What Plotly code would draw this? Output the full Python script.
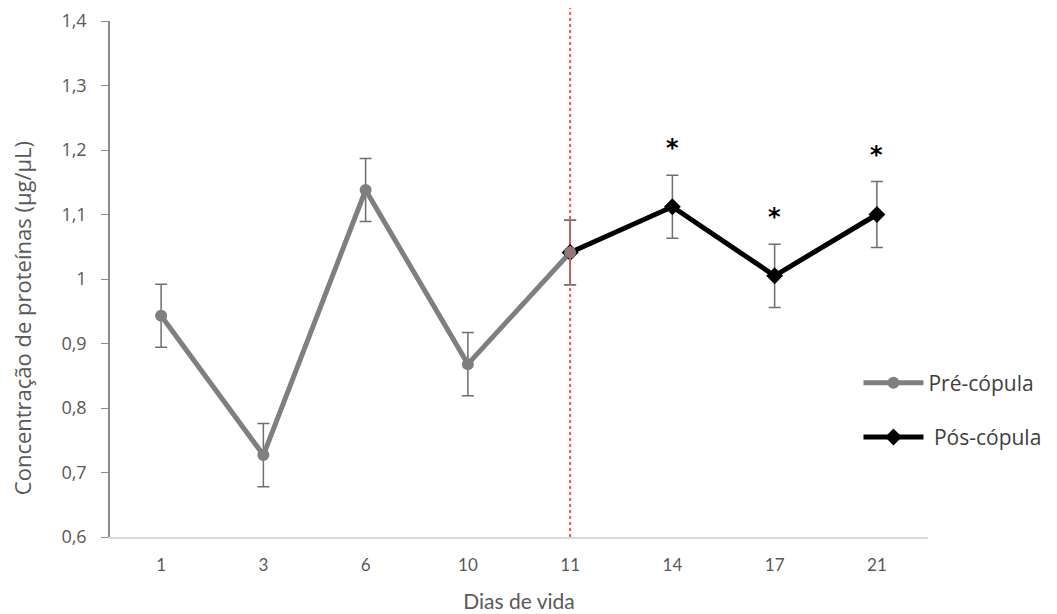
import plotly.graph_objects as go

dias = ["1", "3", "6", "10", "11", "14", "17", "21"]
pre_dias = ["1", "3", "6", "10", "11"]
pre_vals = [0.943, 0.727, 1.138, 0.868, 1.041]
pre_err = [0.049, 0.049, 0.049, 0.049, 0.05]
pos_dias = ["11", "14", "17", "21"]
pos_vals = [1.041, 1.112, 1.005, 1.100]
pos_err = [0.05, 0.049, 0.049, 0.051]
sig_dias = ["14", "17", "21"]
sig_vals = [1.112, 1.005, 1.100]
sig_err = [0.049, 0.049, 0.051]
corte_dia = "11"
y_ticks = [0.6, 0.7, 0.8, 0.9, 1.0, 1.1, 1.2, 1.3, 1.4]
y_labels = ["0,6", "0,7", "0,8", "0,9", "1", "1,1", "1,2", "1,3", "1,4"]

fig = go.Figure()
fig.add_trace(go.Scatter(
    x=pre_dias, y=pre_vals, name="Pré-cópula", mode="lines+markers",
    line=dict(color="#7f7f7f", width=5),
    marker=dict(symbol="circle", size=12, color="#7f7f7f"),
    error_y=dict(type="data", array=pre_err, color="#6e6e6e", thickness=1.5, width=6),
    legendgroup="a",
))
fig.add_trace(go.Scatter(
    x=pos_dias, y=pos_vals, name="\u00a0Pós-cópula", mode="lines+markers",
    line=dict(color="#000000", width=5),
    marker=dict(symbol="diamond", size=13, color="#000000"),
    error_y=dict(type="data", array=pos_err, color="#6e6e6e", thickness=1.5, width=6),
    legendgroup="b",
))
fig.add_trace(go.Scatter(
    x=pre_dias[-1:], y=pre_vals[-1:], mode="markers",
    marker=dict(symbol="circle", size=12, color="#7f7f7f"),
    showlegend=False, hoverinfo="skip",
))

for d, v, e in zip(sig_dias, sig_vals, sig_err):
    fig.add_annotation(x=dias.index(d), y=v + e + 0.042, text="<b>*</b>", showarrow=False,
                       font=dict(size=24, color="#000000", family="DejaVu Sans"),
                       yanchor="middle")

# y-axis title placed as in the reference (slightly below centre)
fig.add_annotation(xref="paper", yref="paper", x=-0.1076, y=0.424,
                   xanchor="center", yanchor="middle", textangle=-90, showarrow=False,
                   text="Concentração de proteínas (µg/µL)",
                   font=dict(size=22, color="#595959", family="Open Sans"))

xi = dias.index(corte_dia)
fig.add_shape(type="line", xref="x", yref="paper", x0=xi, x1=xi, y0=0, y1=1.03,
              line=dict(color="#ff4d4d", width=2, dash="dot"), layer="above")

fig.update_layout(
    width=1057, height=614,
    paper_bgcolor="white", plot_bgcolor="white",
    margin=dict(l=102, r=137, t=13, b=85, autoexpand=False),
    font=dict(family="Open Sans", color="#595959", size=14),
    legend=dict(x=0.915, y=0.246, xanchor="left", yanchor="middle",
                font=dict(size=21, color="#404040", family="Open Sans"), tracegroupgap=24,
                itemwidth=60),
    showlegend=True,
)
fig.update_xaxes(type="category", categoryorder="array", categoryarray=dias,
                 range=[-0.5, len(dias) - 0.5],
                 showline=True, linecolor="#d9d9d9", linewidth=1.5,
                 ticks="", showgrid=False, zeroline=False,
                 title=dict(text="Dias de vida", font=dict(size=21, color="#595959", family="Lato"), standoff=20),
                 tickfont=dict(size=17, color="#595959", family="Lato"), ticklabelstandoff=12)
fig.update_yaxes(range=[0.6, 1.4], tickvals=y_ticks, ticktext=y_labels,
                 showline=True, linecolor="#8c8c8c", linewidth=1.5,
                 ticks="outside", ticklen=7, tickcolor="#8c8c8c",
                 showgrid=False, zeroline=False,
                 tickfont=dict(size=18, color="#595959", family="Open Sans"), ticklabelstandoff=11)

fig.write_html("out.html")
